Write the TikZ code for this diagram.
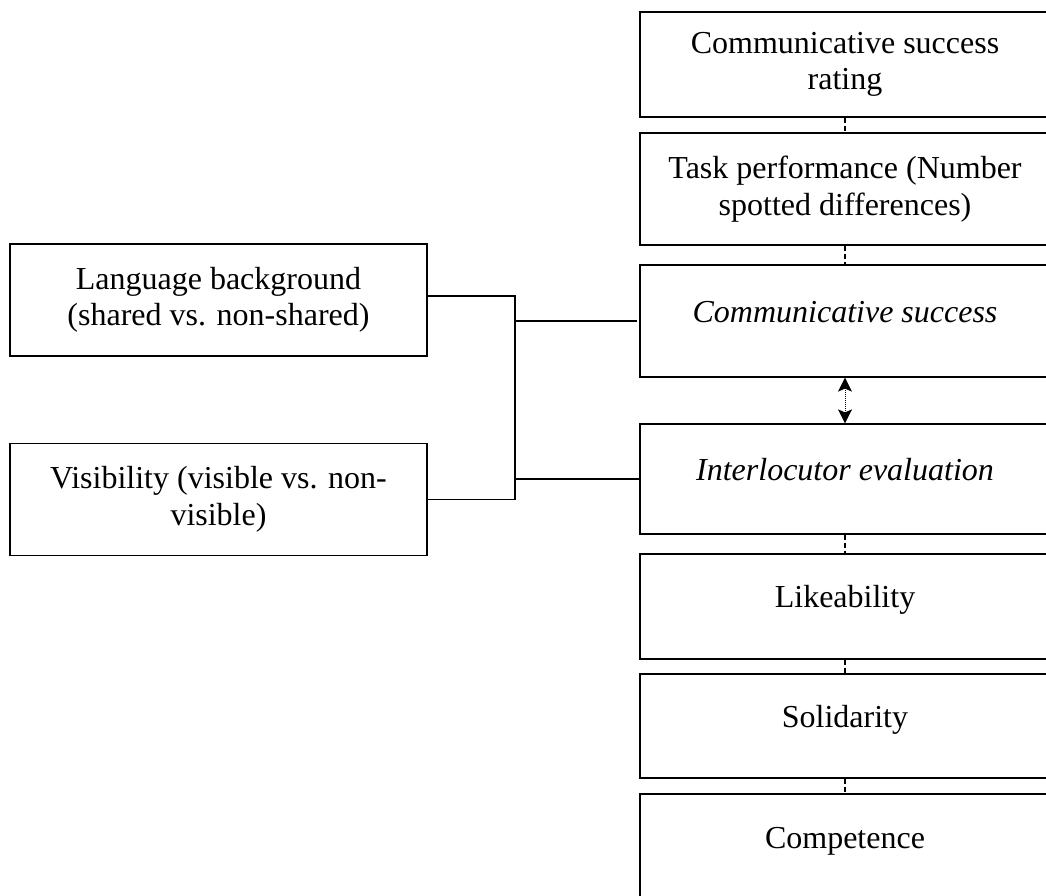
\documentclass[tikz,border=0pt]{standalone}
\usepackage{fontspec}
\setmainfont{Liberation Serif}
\usepackage{tikz}
\usetikzlibrary{positioning, arrows.meta, calc}

\begin{document}
\begin{tikzpicture}[
    x=1pt, y=-1pt,
    var_box/.style = {draw, rectangle, line width=1.2pt, inner sep=0pt, align=center, font=\fontsize{32}{36.5}\selectfont},
    % Style cho hop ben phai
    right_box/.style = {var_box, minimum width=410pt},
    single_box/.style = {right_box, text height=22pt, text depth=20pt},
    left_box/.style = {var_box, minimum width=417pt, minimum height=112pt},
    link_dash/.style = {line width=1.2pt, dash pattern=on 5pt off 3pt},
    link_line/.style = {line width=1.2pt},
    arrow_both/.style = {{Stealth[length=14pt, width=14pt, inset=3pt]}-{Stealth[length=14pt, width=14pt, inset=3pt]}, line width=1pt, densely dotted}
]
\useasboundingbox (0,0) rectangle (1046,895);

% --- Cot phai: cac bien phu thuoc ---
\node[right_box, minimum height=105pt] (rating) at (845, 64.5) {Communicative success\\rating};
\node[right_box, minimum height=112pt] (task) at (845, 189) {Task performance (Number\\spotted differences)};
\node[single_box, minimum height=112pt, font=\fontsize{32}{36.5}\selectfont\itshape] (comm) at (845, 321) {Communicative success};
\node[single_box, minimum height=110pt, font=\fontsize{32}{36.5}\selectfont\itshape] (eval) at (845, 479) {Interlocutor evaluation};
\node[single_box, minimum height=105pt] (like) at (845, 606.5) {Likeability};
\node[single_box, minimum height=104pt] (solid) at (845, 726) {Solidarity};
\node[single_box, minimum height=106pt] (compet) at (845, 847) {Competence};

% --- Cot trai: cac bien doc lap ---
\node[left_box] (lang) at (218.5, 300) {Language background\\(shared vs. non-shared)};
\node[left_box] (vis) at (218.5, 499.5) {Visibility (visible vs. non-\\visible)};

% --- Duong noi ---
\coordinate (trunk) at (515, 0);
\draw[link_line] ([yshift=4pt]lang.east) -- ([yshift=4pt]lang.east -| trunk) -- (vis.east -| trunk) -- (vis.east);
\draw[link_line] (comm.west -| trunk) -- ([xshift=-2pt]comm.west);
\draw[link_line] (eval.west -| trunk) -- (eval.west);

% Duong gach giua cac hop
\draw[link_dash] (rating.south) -- (task.north);
\draw[link_dash] (task.south) -- (comm.north);
\draw[link_dash] (eval.south) -- (like.north);
\draw[link_dash] (like.south) -- (solid.north);
\draw[link_dash] (solid.south) -- (compet.north);

% Mui ten hai chieu
\draw[arrow_both] (comm.south) -- (eval.north);

\end{tikzpicture}
\end{document}
